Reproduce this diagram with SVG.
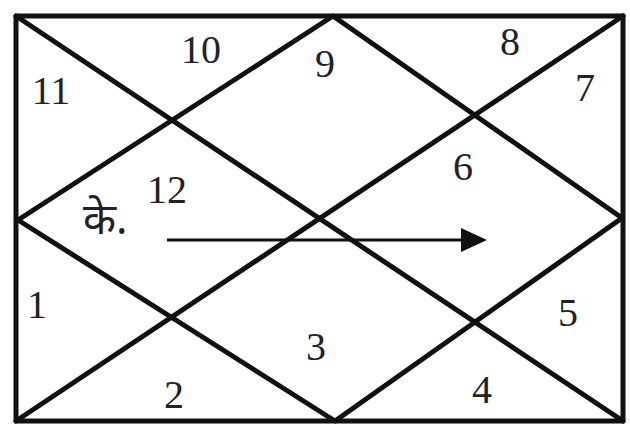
<svg xmlns="http://www.w3.org/2000/svg" width="630" height="428" viewBox="0 0 630 428">
<style>
.ln{stroke:#111;stroke-width:5;fill:none;stroke-linecap:round;stroke-linejoin:round}
.num{font-family:"Liberation Serif",serif;font-size:40px;fill:#222;text-anchor:middle}
.hi{font-family:"Noto Sans Devanagari","Noto Sans","Noto Sans CJK SC",sans-serif;font-size:43px;fill:#222}
</style>
<rect width="630" height="428" fill="#fff"/>
<g id="frame">
<rect x="16" y="16" width="607" height="405" class="ln" stroke-width="6"/>
</g>
<g id="lines">
<line x1="16" y1="16" x2="623" y2="421" class="ln"/>
<line x1="623" y1="16" x2="16" y2="421" class="ln"/>
<polygon points="333,16 622,218 335,421 18,220" class="ln"/>
</g>
<g id="arrow">
<line x1="167" y1="240" x2="466" y2="240" stroke="#111" stroke-width="2.8"/>
<path d="M461,228 L487,240 L461,252 z" fill="#111"/>
</g>
<g id="labels">
<text class="num" x="201" y="63">10</text>
<text class="num" x="325" y="77">9</text>
<text class="num" x="510" y="55">8</text>
<text class="num" x="585" y="101">7</text>
<text class="num" x="51" y="104">11</text>
<text class="num" x="463" y="180">6</text>
<text class="num" x="167" y="203">12</text>
<text class="num" x="37" y="318">1</text>
<text class="num" x="174" y="408">2</text>
<text class="num" x="316" y="360">3</text>
<text class="num" x="482" y="403">4</text>
<text class="num" x="568" y="326">5</text>
<text class="hi" x="83" y="234">के.</text>
</g>
</svg>
